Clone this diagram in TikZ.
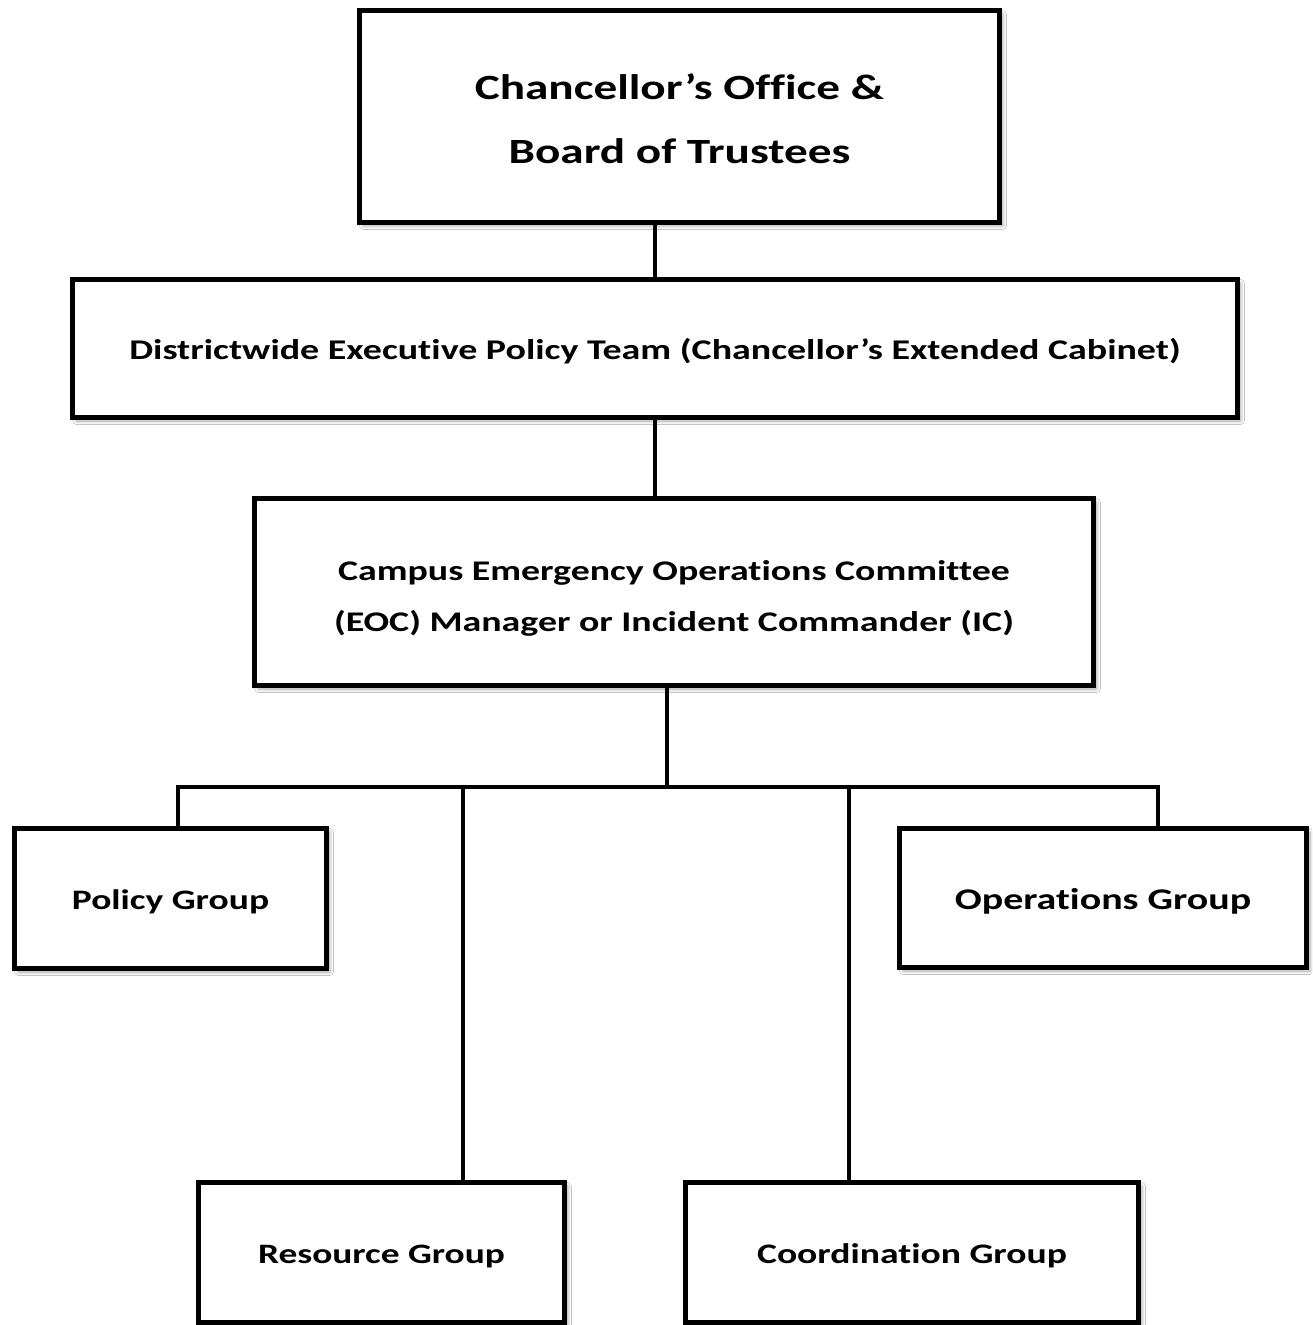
\documentclass[tikz,border=0pt]{standalone}
\usepackage{fontspec}
\setmainfont{Carlito}[Ligatures=NoCommon, FakeStretch=1.33]
\usetikzlibrary{shadows.blur}
\begin{document}
\begin{tikzpicture}[x=0.02cm,y=-0.02cm,
  box/.style={draw=black, line width=2.8pt, fill=white, inner sep=0pt, align=center,
    font=\bfseries, blur shadow={shadow xshift=2pt, shadow yshift=-2pt, shadow blur steps=6, shadow opacity=35}},
  conn/.style={draw=black, line width=2.3pt}]
\useasboundingbox (0,0) rectangle (1312,1325);
\fill[white] (0,0) rectangle (1312,1325);
\node[box, minimum width=12.8cm, minimum height=4.24cm, font=\bfseries\fontsize{20.2}{36.9}\selectfont] (top) at (679.5,116.5)
  {\raisebox{0pt}[53.9pt][0pt]{\begin{tabular}[b]{@{}c@{}}Chancellor’s Office \&\\Board of Trustees\end{tabular}}};
\node[box, minimum width=23.3cm, minimum height=2.76cm, text height=12.7pt, text depth=0pt, font=\bfseries\fontsize{16.24}{20}\selectfont] (dist) at (655,348.5) {Districtwide Executive Policy Team (Chancellor’s Extended Cabinet)};
\node[box, minimum width=16.78cm, minimum height=3.74cm, font=\bfseries\fontsize{16.2}{29}\selectfont] (campus) at (674,592)
  {\raisebox{0pt}[44.5pt][0pt]{\begin{tabular}[b]{@{}c@{}}Campus Emergency Operations Committee\\(EOC) Manager or Incident Commander (IC)\end{tabular}}};
\node[box, minimum width=6.24cm, minimum height=2.8cm, text height=12.6pt, text depth=0pt, font=\bfseries\fontsize{16.06}{20}\selectfont] (policy) at (170.5,898.5) {Policy Group};
\node[box, minimum width=8.14cm, minimum height=2.78cm, text height=13.3pt, text depth=0pt, font=\bfseries\fontsize{17.1}{20}\selectfont] (ops) at (1103,898) {Operations Group};
\node[box, minimum width=7.32cm, minimum height=2.8cm, text height=12.6pt, text depth=0pt, font=\bfseries\fontsize{16.0}{20}\selectfont] (res) at (381.5,1252.5) {Resource Group};
\node[box, minimum width=9.06cm, minimum height=2.8cm, text height=12.6pt, text depth=0pt, font=\bfseries\fontsize{16.1}{20}\selectfont] (coord) at (912,1252.5) {Coordination Group};
\coordinate (bus) at (667,787);
\coordinate (bL) at (178,787);
\coordinate (bR) at (1158,787);
\coordinate (bRes) at (463,787);
\coordinate (bCo) at (849,787);
\draw[conn] (top.south -| dist.north) -- (dist.north);
\draw[conn] (dist.south) -- (dist.south |- campus.north);
\draw[conn] (campus.south -| bus) -- (bus);
\draw[conn] (bL |- policy.north) -- (bL) -- (bR) -- (bR |- ops.north);
\draw[conn] (bRes) -- (bRes |- res.north);
\draw[conn] (bCo) -- (bCo |- coord.north);
\end{tikzpicture}
\end{document}
